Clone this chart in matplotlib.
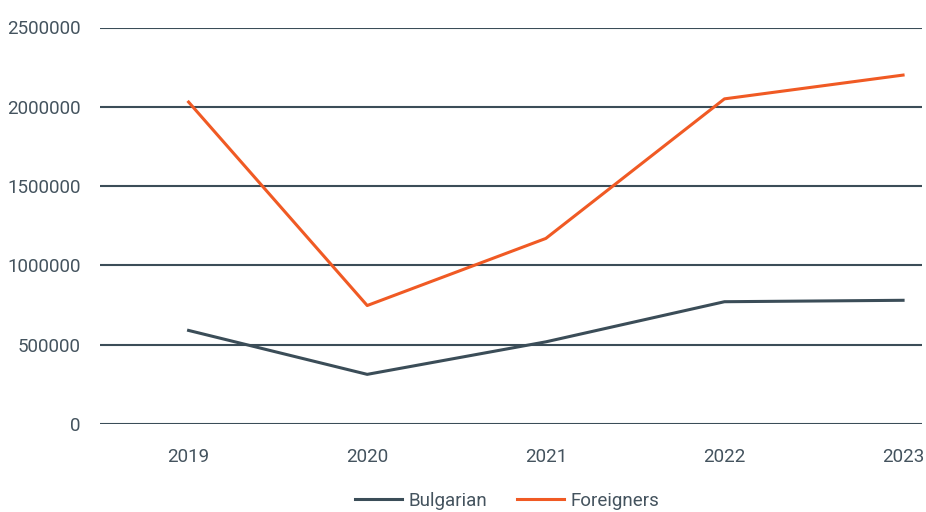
# Visitors by origin, 2019-2023
import numpy as np
import matplotlib.pyplot as plt

plt.rcParams['font.family'] = ['Roboto', 'DejaVu Sans']

years = ['2019', '2020', '2021', '2022', '2023']
bulgarian = [590000, 313000, 518000, 771000, 780000]
foreigners = [2030000, 747000, 1170000, 2050000, 2200000]
yticks = [0, 500000, 1000000, 1500000, 2000000, 2500000]

dark = '#3b4d58'
orange = '#f05a24'
text_col = '#44535e'

fig = plt.figure(figsize=(9.26, 5.12), dpi=100)
ax = fig.add_axes([100/926, 88/512, 822/926, 396.5/512])

x = np.arange(len(years))
ax.plot(x, bulgarian, color=dark, lw=2.2, label='Bulgarian', zorder=3)
ax.plot(x, foreigners, color=orange, lw=2.2, label='Foreigners', zorder=3)

ax.set_ylim(0, 2500000)
ax.set_xlim(-0.496, 4.106)
ax.set_yticks(yticks)
ax.set_yticklabels([str(v) for v in yticks])
ax.set_xticks(x)
ax.set_xticklabels(years)
ax.grid(axis='y', color=dark, lw=1.5)
ax.set_axisbelow(True)
for s in ax.spines.values():
    s.set_visible(False)
ax.tick_params(axis='both', length=0, labelsize=13.5, colors=text_col)
ax.tick_params(axis='y', pad=14)
ax.tick_params(axis='x', pad=17)

fig.legend(loc='center', bbox_to_anchor=(507/926, 1 - 501/512), ncol=2,
           frameon=False, fontsize=13.5, labelcolor=text_col,
           handlelength=2.5, handletextpad=0.35, columnspacing=1.6)

fig.savefig('out.png', dpi=100)
